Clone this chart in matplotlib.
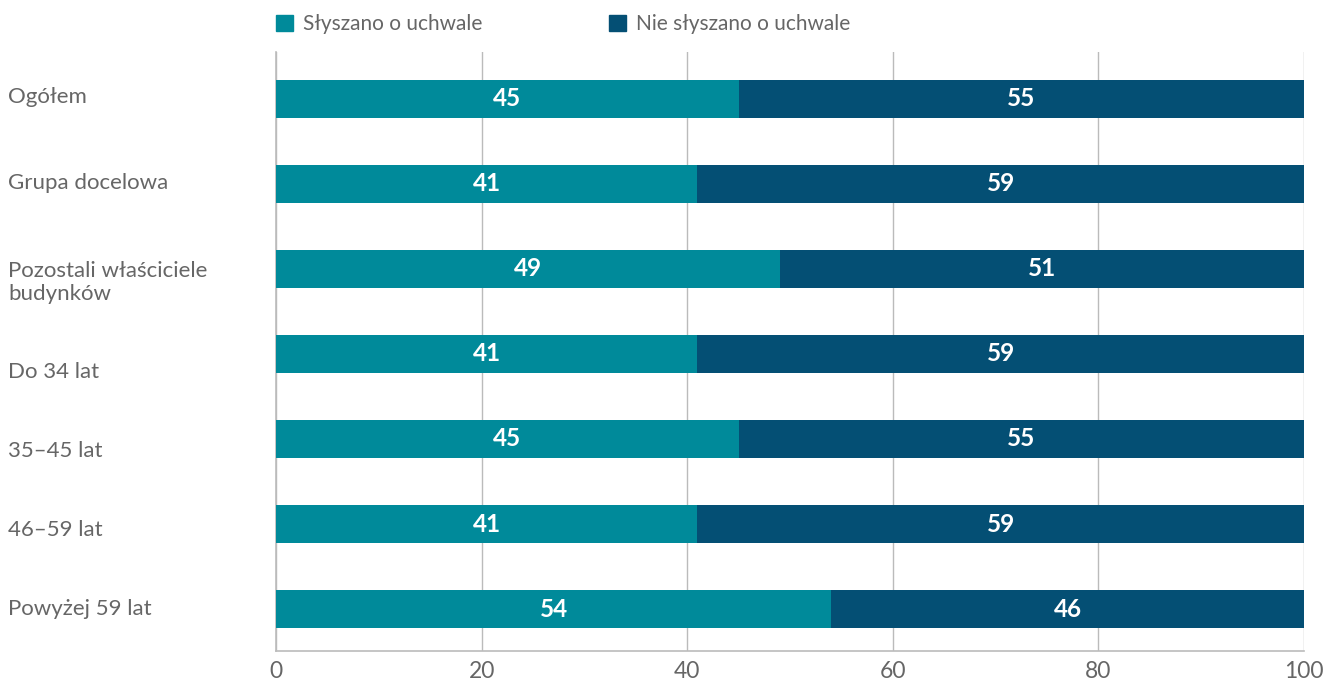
import matplotlib.pyplot as plt
import numpy as np
from matplotlib.patches import Patch
from matplotlib.transforms import blended_transform_factory

categories = ['Ogółem', 'Grupa docelowa', 'Pozostali właściciele\nbudynków',
              'Do 34 lat', '35–45 lat', '46–59 lat', 'Powyżej 59 lat']
heard = [45, 41, 49, 41, 45, 41, 54]
not_heard = [55, 59, 51, 59, 55, 59, 46]
series_names = ['Słyszano o uchwale', 'Nie słyszano o uchwale']
x_ticks = [0, 20, 40, 60, 80, 100]

# small vertical nudges of the row labels, as in the original layout
label_shift = [-0.02, -0.01, 0.0, 0.21, 0.14, 0.07, 0.0]

teal = '#008A9A'
navy = '#044F74'
grey_txt = '#666666'
grid_col = '#BBBBBB'

plt.rcParams['font.family'] = ['Lato', 'DejaVu Sans']

fig = plt.figure(figsize=(13.23, 6.84), dpi=100)
ax = fig.add_axes([0.2086, 0.0482, 0.777, 0.876])

y = np.arange(len(categories))
h = 0.447
ax.barh(y, heard, height=h, color=teal, zorder=3)
ax.barh(y, not_heard, left=heard, height=h, color=navy, zorder=3)

for i in range(len(categories)):
    ax.text(heard[i] / 2, y[i], str(heard[i]), ha='center', va='center',
            color='white', fontsize=17.5, fontweight='bold', zorder=4)
    ax.text(heard[i] + not_heard[i] / 2, y[i], str(not_heard[i]), ha='center',
            va='center', color='white', fontsize=17.5, fontweight='bold', zorder=4)

ax.set_xlim(0, 100)
ax.set_ylim(6.494, -0.553)
ax.set_xticks(x_ticks)
ax.set_xticklabels([str(t) for t in x_ticks], fontsize=16.5, color=grey_txt)
ax.tick_params(axis='x', length=0, pad=7)
ax.set_yticks([])
ax.xaxis.grid(True, color=grid_col, linewidth=1, zorder=0)

for s in ['top', 'right']:
    ax.spines[s].set_visible(False)
for s in ['left', 'bottom']:
    ax.spines[s].set_color(grid_col)
    ax.spines[s].set_linewidth(1.2)

trans = blended_transform_factory(fig.transFigure, ax.transData)
for i, lab in enumerate(categories):
    if '\n' in lab:
        ax.text(8 / 1323, y[i] - 0.09, lab, transform=trans, ha='left', va='top',
                fontsize=16, color=grey_txt, linespacing=1.15)
    else:
        ax.text(8 / 1323, y[i] + label_shift[i], lab, transform=trans, ha='left',
                va='center', fontsize=16, color=grey_txt)

handles = [Patch(color=teal), Patch(color=navy)]
fig.legend(handles, series_names, loc='center left',
           bbox_to_anchor=(276 / 1323, 1 - 24 / 684), ncol=2, frameon=False,
           fontsize=15, labelcolor=grey_txt, handlelength=0.8, handleheight=0.8,
           handletextpad=0.48, columnspacing=6.1, borderpad=0, borderaxespad=0)

fig.savefig('out.png', dpi=100)
